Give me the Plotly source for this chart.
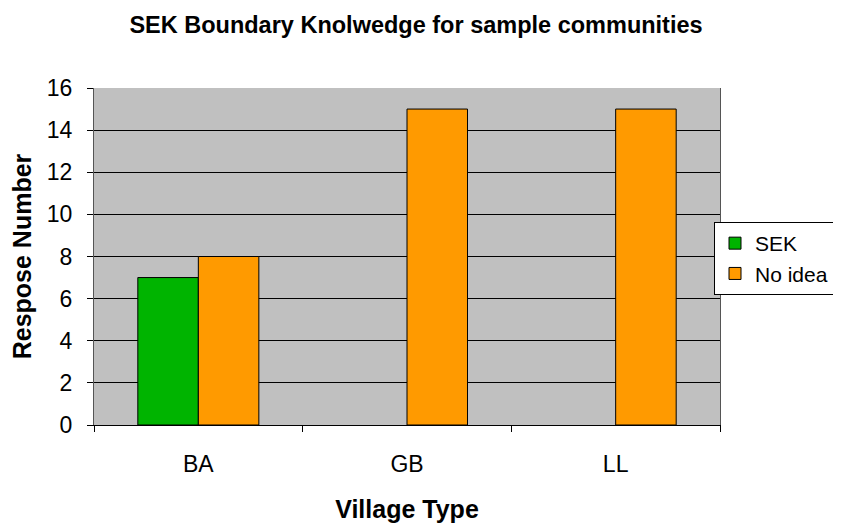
import plotly.graph_objects as go

villages = ["BA", "GB", "LL"]
sek = [7, 0, 0]
no_idea = [8, 15, 15]

font_name = "Arial, Liberation Sans, sans-serif"

# page body has an 8px margin, so the figure is a bit smaller than the window
W, H = 833, 516

fig = go.Figure()
fig.add_trace(go.Bar(x=villages, y=sek, name="SEK",
                     marker=dict(color="#00B400",
                                 line=dict(color="black", width=[1 if v > 0 else 0 for v in sek]))))
fig.add_trace(go.Bar(x=villages, y=no_idea, name="No idea",
                     marker=dict(color="#FF9A00",
                                 line=dict(color="black", width=[1 if v > 0 else 0 for v in no_idea]))))

fig.update_layout(
    width=W, height=H,
    margin=dict(l=86, r=121, t=80, b=99, autoexpand=False),
    paper_bgcolor="white",
    plot_bgcolor="#C0C0C0",
    barmode="group", bargap=0.42, bargroupgap=0,
    font=dict(family=font_name, color="black", size=23),
    title=dict(text="<b>SEK Boundary Knolwedge for sample communities</b>",
               x=408 / W, xanchor="center", y=1 - 17 / H, yanchor="middle",
               font=dict(size=23.5)),
    legend=dict(xref="container", yref="container",
                x=706 / W, y=1 - 214 / H, xanchor="left", yanchor="top",
                bordercolor="black", borderwidth=1, bgcolor="white",
                itemwidth=30, font=dict(size=21)),
    showlegend=True,
)

fig.update_xaxes(
    showgrid=False, showline=True, linecolor="black", linewidth=1,
    ticks="outside", tickson="boundaries", ticklen=6, tickcolor="black",
    ticklabelstandoff=18,
    title=dict(text="<b>Village Type</b>", font=dict(size=25), standoff=24),
)
fig.update_yaxes(
    range=[0, 16], dtick=2, showgrid=True, gridcolor="black", gridwidth=1,
    showline=True, linecolor="#555555", linewidth=1, mirror=True,
    ticks="outside", ticklen=6, tickcolor="black", ticklabelstandoff=10,
    zeroline=False,
    title=dict(text="<b>Respose Number</b>", font=dict(size=25), standoff=11),
)

fig.write_html("out.html")
